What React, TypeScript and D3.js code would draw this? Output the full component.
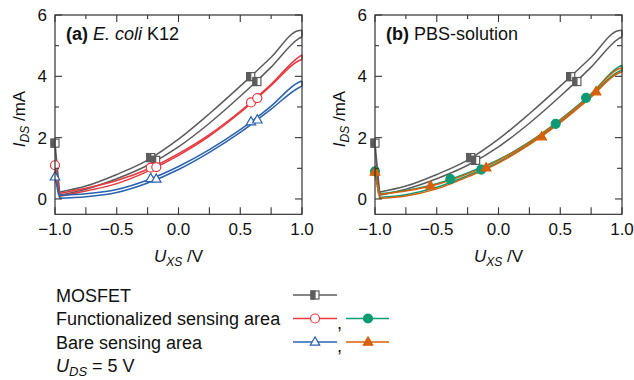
import React from "react";
import * as d3 from "d3";

// ---- data ----
const SWEEP_X = [-0.97, -0.75, -0.5, -0.25, 0, 0.25, 0.5, 0.75, 0.97, 1.0];
const X_TICKS = [-1, -0.5, 0, 0.5, 1];
const X_MINOR = [-0.75, -0.25, 0.25, 0.75];
const Y_TICKS = [0, 2, 4, 6];
const Y_MINOR = [1, 3, 5];

const MOS_UP = [0.22, 0.42, 0.8, 1.27, 1.95, 2.78, 3.68, 4.62, 5.49, 5.5];
const MOS_LO = [0.12, 0.32, 0.66, 1.1, 1.7, 2.47, 3.35, 4.3, 5.22, 5.29];
const MOS_SPIKE = 1.82;
const MOS_MX = [-1.0, -0.225, -0.185, 0.585, 0.635];
const MOS_MY = [1.82, 1.35, 1.26, 3.99, 3.83];

const RED_UP = [0.18, 0.35, 0.6, 0.97, 1.48, 2.1, 2.86, 3.74, 4.62, 4.7];
const RED_LO = [0.08, 0.26, 0.5, 0.9, 1.42, 2.05, 2.82, 3.7, 4.5, 4.55];
const RED_SPIKE = 1.1;
const RED_MX = [-1.0, -0.225, -0.18, 0.587, 0.638];
const RED_MY = [1.1, 1.02, 1.04, 3.15, 3.29];

const BLUE_UP = [0.12, 0.17, 0.31, 0.62, 1.06, 1.61, 2.26, 3.03, 3.8, 3.85];
const BLUE_LO = [0.02, 0.07, 0.21, 0.52, 0.96, 1.52, 2.17, 2.93, 3.62, 3.68];
const BLUE_SPIKE = 0.72;
const BLUE_MX = [-1.0, -0.225, -0.18, 0.587, 0.638];
const BLUE_MY = [0.72, 0.67, 0.65, 2.52, 2.58];

const GREEN_UP = [0.17, 0.28, 0.5, 0.85, 1.28, 1.86, 2.59, 3.43, 4.3, 4.36];
const GREEN_LO = [0.05, 0.14, 0.38, 0.76, 1.2, 1.8, 2.52, 3.36, 4.15, 4.2];
const GREEN_SPIKE = 0.9;
const GREEN_MX = [-1.0, -0.39, -0.14, 0.463, 0.709];
const GREEN_MY = [0.9, 0.65, 0.96, 2.45, 3.3];

const ORANGE_UP = [0.15, 0.26, 0.47, 0.82, 1.26, 1.84, 2.57, 3.4, 4.24, 4.28];
const ORANGE_LO = [0.02, 0.1, 0.33, 0.72, 1.17, 1.77, 2.49, 3.32, 4.1, 4.14];
const ORANGE_SPIKE = 0.88;
const ORANGE_MX = [-1.0, -0.55, -0.1, 0.35, 0.79];
const ORANGE_MY = [0.88, 0.43, 1.02, 2.03, 3.5];

// ---- styles ----
const GREY = "#5c5c5c";
const RED = "#e8373e";
const BLUE = "#2a62b0";
const GREEN = "#0c9a74";
const ORANGE = "#d8600a";
const FONT = "'Liberation Sans', Arial, sans-serif";

type Series = {
  up: number[]; lo: number[]; spike: number;
  mx: number[]; my: number[]; color: string; marker: string;
};

const LEFT: Series[] = [
  { up: MOS_UP, lo: MOS_LO, spike: MOS_SPIKE, mx: MOS_MX, my: MOS_MY, color: GREY, marker: "half" },
  { up: RED_UP, lo: RED_LO, spike: RED_SPIKE, mx: RED_MX, my: RED_MY, color: RED, marker: "circleOpen" },
  { up: BLUE_UP, lo: BLUE_LO, spike: BLUE_SPIKE, mx: BLUE_MX, my: BLUE_MY, color: BLUE, marker: "triOpen" },
];
const RIGHT: Series[] = [
  { up: MOS_UP, lo: MOS_LO, spike: MOS_SPIKE, mx: MOS_MX, my: MOS_MY, color: GREY, marker: "half" },
  { up: GREEN_UP, lo: GREEN_LO, spike: GREEN_SPIKE, mx: GREEN_MX, my: GREEN_MY, color: GREEN, marker: "circleFill" },
  { up: ORANGE_UP, lo: ORANGE_LO, spike: ORANGE_SPIKE, mx: ORANGE_MX, my: ORANGE_MY, color: ORANGE, marker: "triFill" },
];

function Marker({ kind, x, y, color }: { kind: string; x: number; y: number; color: string }) {
  if (kind === "half") {
    const s = 8;
    return (
      <g>
        <rect x={x - s / 2} y={y - s / 2} width={s} height={s} fill="#fff" stroke={color} strokeWidth={1.2} />
        <rect x={x - s / 2} y={y - s / 2} width={s / 2} height={s} fill={color} stroke={color} strokeWidth={1.2} />
      </g>
    );
  }
  if (kind === "circleOpen" || kind === "circleFill") {
    return <circle cx={x} cy={y} r={4.5} fill={kind === "circleFill" ? color : "#fff"} stroke={color} strokeWidth={1.2} />;
  }
  const s = 9.5;
  const h = s * 0.866;
  const p = `M${x},${y - h * 0.62}L${x + s / 2},${y + h * 0.38}L${x - s / 2},${y + h * 0.38}Z`;
  return <path d={p} fill={kind === "triFill" ? color : "#fff"} stroke={color} strokeWidth={1.2} />;
}

function Panel({ x0, series, label }: { x0: number; series: Series[]; label: React.ReactNode }) {
  const W = 247;
  const top = 15;
  const bottom = 214.3;
  const x = d3.scaleLinear().domain([-1, 1]).range([x0, x0 + W]);
  const y = d3.scaleLinear().domain([-0.5, 6]).range([bottom, top]);
  const line = d3.line<[number, number]>().x((d) => x(d[0])).y((d) => y(d[1])).curve(d3.curveMonotoneX);
  const lin = d3.line<[number, number]>().x((d) => x(d[0])).y((d) => y(d[1]));
  const fmt = (v: number) => (v < 0 ? "\u2212" : "") + Math.abs(v).toFixed(1);
  return (
    <g>
      {series.map((s, i) => {
        const up = SWEEP_X.map((xx, k) => [xx, s.up[k]] as [number, number]);
        const lo = SWEEP_X.map((xx, k) => [xx, s.lo[k]] as [number, number]);
        const spike: [number, number][] = [[-0.96, s.lo[0]], [-1, s.spike], [-0.97, s.up[0]]];
        const conn: [number, number][] = [[1, s.up[9]], [1, s.lo[9]]];
        return (
          <g key={i} fill="none" stroke={s.color} strokeWidth={1.5} strokeLinejoin="round">
            <path d={line(lo) || ""} />
            <path d={line(up) || ""} />
            <path d={lin(spike) || ""} />
            <path d={lin(conn) || ""} />
          </g>
        );
      })}
      {series.map((s, i) => (
        <g key={"m" + i}>
          {s.mx.map((mx, k) => (
            <Marker key={k} kind={s.marker} x={x(mx)} y={y(s.my[k])} color={s.color} />
          ))}
        </g>
      ))}
      {/* frame */}
      <rect x={x0} y={top} width={W} height={bottom - top} fill="none" stroke="#333" strokeWidth={1.2} />
      {X_TICKS.map((t) => (
        <g key={"xt" + t} stroke="#333" strokeWidth={1.1}>
          <line x1={x(t)} x2={x(t)} y1={bottom} y2={bottom - 7} />
          <line x1={x(t)} x2={x(t)} y1={top} y2={top + 7} />
        </g>
      ))}
      {X_MINOR.map((t) => (
        <g key={"xm" + t} stroke="#333" strokeWidth={1.1}>
          <line x1={x(t)} x2={x(t)} y1={bottom} y2={bottom - 7} />
          <line x1={x(t)} x2={x(t)} y1={top} y2={top + 4} />
        </g>
      ))}
      {Y_TICKS.map((t) => (
        <g key={"yt" + t} stroke="#333" strokeWidth={1.1}>
          <line x1={x0} x2={x0 + 7} y1={y(t)} y2={y(t)} />
          <line x1={x0 + W} x2={x0 + W - 7} y1={y(t)} y2={y(t)} />
        </g>
      ))}
      {Y_MINOR.map((t) => (
        <g key={"ym" + t} stroke="#333" strokeWidth={1.1}>
          <line x1={x0} x2={x0 + 4} y1={y(t)} y2={y(t)} />
          <line x1={x0 + W} x2={x0 + W - 5} y1={y(t)} y2={y(t)} />
        </g>
      ))}
      <g fontFamily={FONT} fontSize={17} fill="#111">
        {X_TICKS.map((t) => (
          <text key={"xl" + t} x={x(t)} y={235} textAnchor="middle">{fmt(t)}</text>
        ))}
        {Y_TICKS.map((t) => (
          <text key={"yl" + t} x={x0 - 8} y={y(t) + 6} textAnchor="end">{t}</text>
        ))}
        <text transform={`translate(${x0 - 30},119) rotate(-90)`} textAnchor="middle">
          <tspan fontStyle="italic">I</tspan>
          <tspan fontStyle="italic" fontSize={12} dy={4}>DS</tspan>
          <tspan dy={-4}> /mA</tspan>
        </text>
        <text x={x0 + W / 2} y={262} textAnchor="middle">
          <tspan fontStyle="italic">U</tspan>
          <tspan fontStyle="italic" fontSize={12} dy={4}>XS</tspan>
          <tspan dy={-4}> /V</tspan>
        </text>
        <text x={x0 + 11} y={40} fontSize={18}>{label}</text>
      </g>
    </g>
  );
}

const LEGEND_ROWS = ["MOSFET", "Functionalized sensing area", "Bare sensing area"];

export default function App() {
  const rowY = [295, 318.5, 342];
  const lx1 = 293, lx2 = 337, lx3 = 346, lx4 = 389;
  return (
    <svg width={634} height={380} style={{ position: "absolute", left: 0, top: 0, background: "#fff" }}>
      <Panel
        x0={55}
        series={LEFT}
        label={<><tspan fontWeight="bold">(a)</tspan> <tspan fontStyle="italic">E. coli</tspan> K12</>}
      />
      <Panel
        x0={375}
        series={RIGHT}
        label={<><tspan fontWeight="bold">(b)</tspan> PBS-solution</>}
      />
      <g fontFamily={FONT} fontSize={18} fill="#111">
        {LEGEND_ROWS.map((r, i) => (
          <text key={r} x={56} y={rowY[i] + 6.5}>{r}</text>
        ))}
        <text x={56} y={372}>
          <tspan fontStyle="italic">U</tspan>
          <tspan fontStyle="italic" fontSize={13} dy={4}>DS</tspan>
          <tspan dy={-4}> = 5 V</tspan>
        </text>
        <text x={337} y={rowY[1] + 10}>,</text>
        <text x={337} y={rowY[2] + 10}>,</text>
      </g>
      <g strokeWidth={1.5}>
        <line x1={lx1} x2={lx2} y1={rowY[0]} y2={rowY[0]} stroke={GREY} />
        <line x1={lx1} x2={lx2} y1={rowY[1]} y2={rowY[1]} stroke={RED} />
        <line x1={lx1} x2={lx2} y1={rowY[2]} y2={rowY[2]} stroke={BLUE} />
        <line x1={lx3} x2={lx4} y1={rowY[1]} y2={rowY[1]} stroke={GREEN} />
        <line x1={lx3} x2={lx4} y1={rowY[2]} y2={rowY[2]} stroke={ORANGE} />
      </g>
      <Marker kind="half" x={315} y={rowY[0]} color={GREY} />
      <Marker kind="circleOpen" x={315} y={rowY[1]} color={RED} />
      <Marker kind="triOpen" x={315} y={rowY[2]} color={BLUE} />
      <Marker kind="circleFill" x={368} y={rowY[1]} color={GREEN} />
      <Marker kind="triFill" x={368} y={rowY[2]} color={ORANGE} />
    </svg>
  );
}
